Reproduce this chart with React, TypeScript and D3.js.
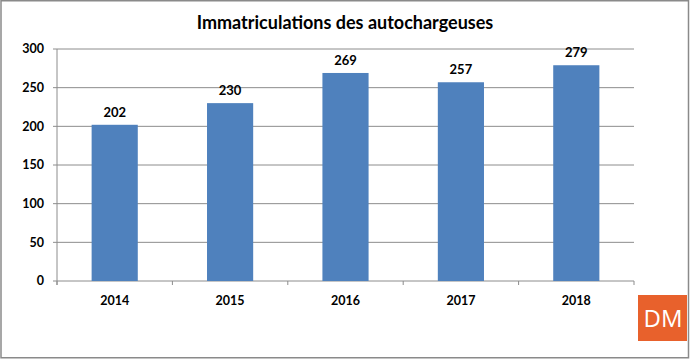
import React from "react";
import * as d3 from "d3";

const years = ["2014", "2015", "2016", "2017", "2018"];
const values = [202, 230, 269, 257, 279];
const yTicks = [0, 50, 100, 150, 200, 250, 300];
const title = "Immatriculations des autochargeuses";

const W = 690;
const H = 359;
const plot = { left: 57, right: 634, top: 49, bottom: 281 };
const FONT = "Lato, 'Open Sans', sans-serif";

export default function App() {
  const x = d3
    .scaleBand<string>()
    .domain(years)
    .range([plot.left, plot.right])
    .paddingInner(0.6)
    .paddingOuter(0.3);
  const xb = d3.scaleBand<string>().domain(years).range([plot.left, plot.right]);
  const y = d3.scaleLinear().domain([0, 300]).range([plot.bottom, plot.top]);

  const boundaries = [...years.map((d) => xb(d) as number), plot.right];

  return (
    <svg
      width={W}
      height={H}
      style={{ position: "absolute", left: 0, top: 0, background: "#fff" }}
    >
      <rect x={1} y={0.75} width={W - 2.5} height={H - 2} fill="#fff" stroke="#8a8a8a" strokeWidth={1.5} />
      <text
        x={345}
        y={29}
        textAnchor="middle"
        fontFamily={FONT}
        fontWeight={700}
        fontSize={18}
        fill="#000"
      >
        {title}
      </text>
      {yTicks.map((t) => (
        <g key={t}>
          <line
            x1={plot.left - 4}
            x2={plot.right}
            y1={y(t)}
            y2={y(t)}
            stroke="#8c8c8c"
            strokeWidth={1}
          />
          <text
            x={44}
            y={y(t)}
            dy="0.35em"
            textAnchor="end"
            fontFamily={FONT}
            fontWeight={700}
            fontSize={12.5}
            fill="#000"
          >
            {t}
          </text>
        </g>
      ))}
      <line x1={plot.left} x2={plot.left} y1={plot.top} y2={plot.bottom + 4} stroke="#8c8c8c" />
      {boundaries.map((b, i) => (
        <line key={i} x1={b} x2={b} y1={plot.bottom} y2={plot.bottom + 4} stroke="#8c8c8c" />
      ))}
      {years.map((yr, i) => (
        <g key={yr}>
          <rect
            x={x(yr)}
            y={y(values[i])}
            width={x.bandwidth()}
            height={plot.bottom - y(values[i])}
            fill="#4f81bd"
          />
          <text
            x={(x(yr) as number) + x.bandwidth() / 2}
            y={y(values[i]) - 8}
            textAnchor="middle"
            fontFamily={FONT}
            fontWeight={700}
            fontSize={13}
            fill="#000"
          >
            {values[i]}
          </text>
          <text
            x={(xb(yr) as number) + xb.bandwidth() / 2}
            y={301}
            dy="0.35em"
            textAnchor="middle"
            fontFamily={FONT}
            fontWeight={700}
            fontSize={12.5}
            fill="#000"
          >
            {yr}
          </text>
        </g>
      ))}
      <rect x={638} y={295} width={49} height={46} fill="#e8612c" />
      <text
        x={663}
        y={318}
        dy="0.36em"
        textAnchor="middle"
        fontFamily="'Open Sans', sans-serif"
        fontWeight={400}
        fontSize={24}
        fill="#fff"
      >
        DM
      </text>
    </svg>
  );
}
